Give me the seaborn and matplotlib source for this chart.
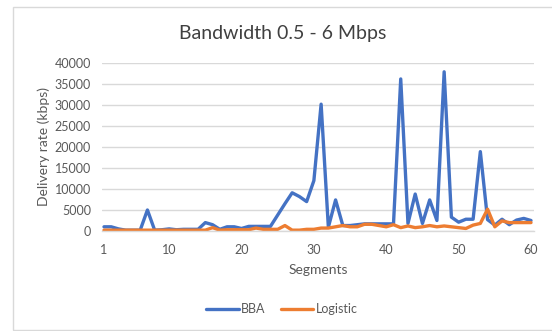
import numpy as np
import pandas as pd
import matplotlib
matplotlib.use("Agg")
import matplotlib.pyplot as plt
import seaborn as sns
from matplotlib.patches import Rectangle
from matplotlib.lines import Line2D

segments = list(range(1, 61))
bba = [1000, 1000, 500, 200, 200, 200, 5000, 200, 300, 500,
       300, 400, 400, 400, 2000, 1500, 400, 1000, 1000, 600,
       1100, 1100, 1100, 1100, 3800, 6500, 9100, 8200, 7000, 12000,
       30200, 900, 7400, 1300, 1300, 1500, 1700, 1700, 1700, 1700,
       1700, 36200, 1800, 8800, 1800, 7400, 2500, 37900, 3300, 2100,
       2800, 2800, 18900, 2700, 1400, 2800, 1500, 2600, 3000, 2500]
logistic = [200, 200, 200, 200, 200, 200, 200, 200, 200, 200,
            200, 200, 200, 200, 200, 800, 200, 300, 300, 300,
            300, 700, 400, 400, 400, 1300, 200, 200, 400, 400,
            700, 700, 1000, 1300, 1000, 1000, 1600, 1600, 1300, 1000,
            1500, 800, 1200, 800, 1000, 1300, 1000, 1200, 1000, 800,
            600, 1400, 1800, 5200, 1000, 2400, 2000, 2000, 2000, 2000]
series_names = ["BBA", "Logistic"]
colors = ["#4472C4", "#ED7D31"]
y_ticks = list(range(0, 40001, 5000))
x_ticks = [1, 10, 20, 30, 40, 50, 60]

df = pd.DataFrame({
    "Segments": segments * 2,
    "rate": bba + logistic,
    "series": [series_names[0]] * len(segments) + [series_names[1]] * len(segments),
})

sns.set_theme(style="white")
plt.rcParams["font.family"] = ["Lato", "DejaVu Sans"]

W, H = 552, 331
fig = plt.figure(figsize=(W / 100, H / 100), dpi=100)
# chart border
fig.patches.append(Rectangle((13 / W, 1 - 330 / H), (W + 10 - 13) / W, (330 - 7) / H,
                             transform=fig.transFigure, fill=False,
                             edgecolor="#d9d9d9", linewidth=1.0))

ax = fig.add_axes([102 / W, 1 - 231 / H, (534 - 102) / W, (231 - 63) / H])
sns.lineplot(data=df, x="Segments", y="rate", hue="series", palette=colors,
             linewidth=2.4, ax=ax, legend=False)

ax.set_xlim(1 - 2 / 7.237, 60 + 3 / 7.237)
ax.set_ylim(0, 40000)
ax.set_yticks(y_ticks)
ax.set_yticklabels([str(v) for v in y_ticks])
ax.set_xticks(x_ticks)
ax.set_xticklabels([str(v) for v in x_ticks])
ax.tick_params(axis="both", length=0, labelsize=9, colors="#595959")
ax.tick_params(axis="x", pad=9)
ax.tick_params(axis="y", pad=8)
ax.grid(axis="y", color="#d9d9d9", linewidth=1.0)
ax.set_axisbelow(True)
for s in ["top", "right", "left"]:
    ax.spines[s].set_visible(False)
ax.spines["bottom"].set_color("#d9d9d9")
ax.spines["bottom"].set_linewidth(1.0)
ax.set_xlabel("Segments", fontsize=10, color="#595959", labelpad=6)
ax.set_ylabel("Delivery rate (kbps)", fontsize=10, color="#595959", labelpad=3)

fig.text(283 / W, 1 - 33 / H, "Bandwidth 0.5 - 6 Mbps", ha="center", va="center",
         fontsize=14, color="#404040")

handles = [Line2D([0], [0], color=c, linewidth=2.4) for c in colors]
fig.legend(handles, series_names, loc="center", bbox_to_anchor=(282 / W, 1 - 309 / H),
           ncol=2, frameon=False, fontsize=9, handlelength=2.6, handletextpad=0.2,
           columnspacing=1.2, labelcolor="#595959")

fig.savefig("out.png", dpi=100)
